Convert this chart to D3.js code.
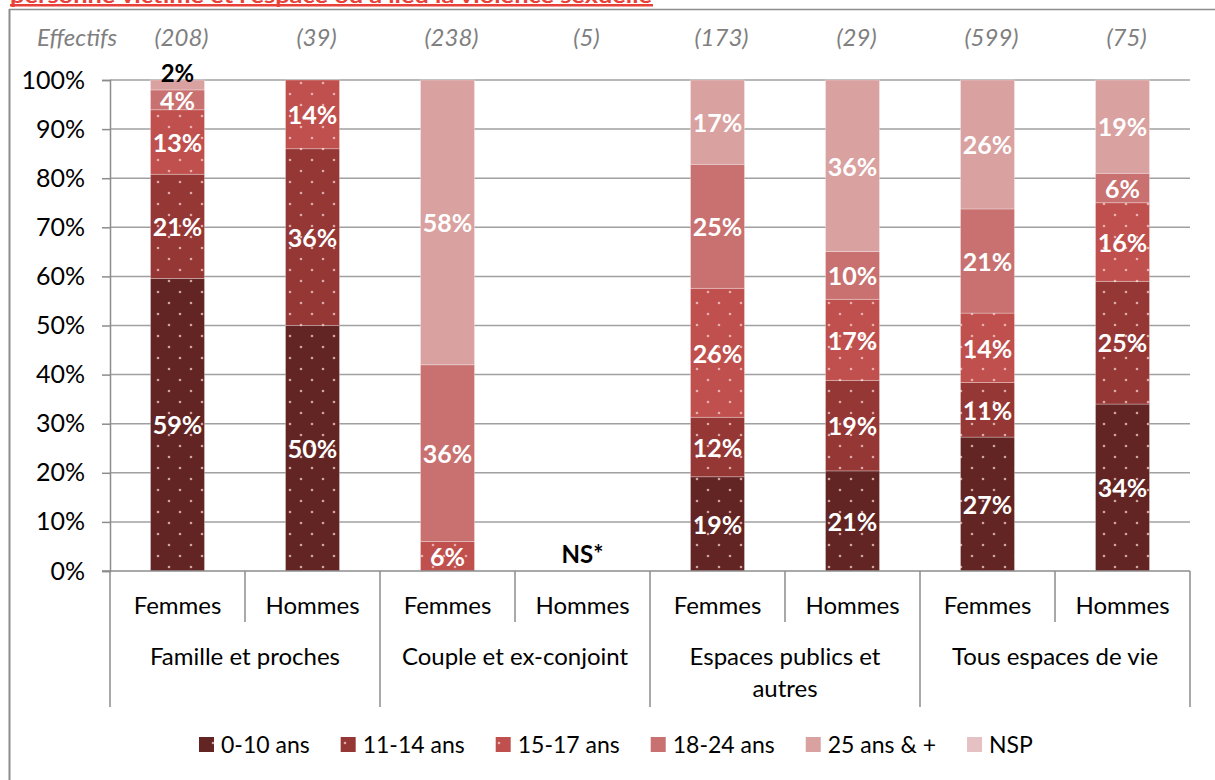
<!DOCTYPE html>
<html>
<head>
<meta charset="utf-8">
<script src="https://cdn.jsdelivr.net/npm/d3@7"></script>
<style>
  body { margin: 0; background: #fff; }
  text { font-family: Lato, "Open Sans", sans-serif; }
</style>
</head>
<body>
<div id="chart"></div>
<script>
// data
let groups = ["Famille et proches", "Couple et ex-conjoint", "Espaces publics et autres", "Tous espaces de vie"];
let sexes = ["Femmes", "Hommes"];
let effectifs = [208, 39, 238, 5, 173, 29, 599, 75];
let ageKeys = ["0-10 ans", "11-14 ans", "15-17 ans", "18-24 ans", "25 ans & +", "NSP"];
let age0_10 = [59, 50, 0, 0, 19, 21, 27, 34];
let age11_14 = [21, 36, 0, 0, 12, 19, 11, 25];
let age15_17 = [13, 14, 6, 0, 26, 17, 14, 16];
let age18_24 = [4, 0, 36, 0, 25, 10, 21, 6];
let age25plus = [2, 0, 58, 0, 17, 36, 26, 19];
let nsp = [0, 0, 0, 0, 0, 0, 0, 0];
let yTicks = [0, 0.1, 0.2, 0.3, 0.4, 0.5, 0.6, 0.7, 0.8, 0.9, 1];
let title = "personne victime et l'espace où a lieu la violence sexuelle";

let colors = ["#632523", "#953735", "#c0504d", "#c87170", "#d9a1a0", "#e6c1c3"];
let dotted = [true, true, true, false, false, false];

// build rows for d3.stack
let seriesVals = [age0_10, age11_14, age15_17, age18_24, age25plus, nsp];
let rows = [];
groups.forEach(function(g, gi) {
  sexes.forEach(function(s, si) {
    let i = gi * 2 + si;
    let row = { key: g + "|" + s, group: g, sexe: s, n: effectifs[i] };
    ageKeys.forEach(function(k, ki) { row[k] = seriesVals[ki][i]; });
    rows.push(row);
  });
});

let width = 1215;
let height = 780;
let plotLeft = 110, plotRight = 1190, plotTop = 80, plotBottom = 571;

let svg = d3.select("#chart").append("svg")
  .attr("width", width)
  .attr("height", height);

// dot patterns
let defs = svg.append("defs");
colors.forEach(function(c, i) {
  let p = defs.append("pattern")
    .attr("id", "pat" + i)
    .attr("patternUnits", "userSpaceOnUse")
    .attr("width", 22)
    .attr("height", 22);
  p.append("rect").attr("width", 22).attr("height", 22).attr("fill", c);
  if (dotted[i]) {
    p.append("circle").attr("cx", 4).attr("cy", 6).attr("r", 1.3).attr("fill", "#f5cfcf").attr("opacity", 0.75);
    p.append("circle").attr("cx", 15).attr("cy", 17).attr("r", 1.3).attr("fill", "#f5cfcf").attr("opacity", 0.75);
  }
});

// title (cut off at the top)
svg.append("text")
  .attr("x", 10)
  .attr("y", 3)
  .attr("fill", "#e8413a")
  .attr("font-weight", "bold")
  .attr("font-size", 20)
  .attr("textLength", 642)
  .attr("lengthAdjust", "spacingAndGlyphs")
  .text(title);
svg.append("rect").attr("x", 10).attr("y", 4).attr("width", 643).attr("height", 2.5).attr("fill", "#e8413a");

// outer border of the chart frame
svg.append("line").attr("x1", 9).attr("x2", width).attr("y1", 9.5).attr("y2", 9.5)
  .attr("stroke", "#8c8c8c").attr("stroke-width", 1.5);
svg.append("line").attr("x1", 9.5).attr("x2", 9.5).attr("y1", 9).attr("y2", height)
  .attr("stroke", "#8c8c8c").attr("stroke-width", 2);

let x = d3.scaleBand()
  .domain(rows.map(function(d) { return d.key; }))
  .range([plotLeft, plotRight])
  .paddingInner(0.6)
  .paddingOuter(0.3);

let y = d3.scaleLinear().domain([0, 1]).range([plotBottom, plotTop]);

// gridlines
svg.append("g")
  .selectAll("line")
  .data(yTicks.slice(1))
  .join("line")
  .attr("x1", plotLeft)
  .attr("x2", plotRight)
  .attr("y1", function(d) { return y(d); })
  .attr("y2", function(d) { return y(d); })
  .attr("stroke", "#a0a0a0")
  .attr("stroke-width", 1.5);

// y axis
let yAxis = d3.axisLeft(y)
  .tickValues(yTicks)
  .tickFormat(d3.format(".0%"))
  .tickSize(8)
  .tickPadding(17);
let yg = svg.append("g").attr("transform", "translate(" + plotLeft + ",0)").call(yAxis);
yg.select(".domain").attr("stroke", "#8c8c8c").attr("stroke-width", 1.5);
yg.selectAll(".tick line").attr("stroke", "#8c8c8c").attr("stroke-width", 1.5);
yg.selectAll("text").attr("font-size", 25).attr("fill", "#000").attr("font-family", "Lato, sans-serif");

// stacked bars (100% stacked)
let stack = d3.stack().keys(ageKeys).offset(d3.stackOffsetExpand);
let stacked = stack(rows);

let layers = svg.append("g").selectAll("g")
  .data(stacked)
  .join("g")
  .attr("fill", function(d, i) { return "url(#pat" + i + ")"; });

layers.selectAll("rect")
  .data(function(d) { return d; })
  .join("rect")
  .attr("x", function(d) { return x(d.data.key); })
  .attr("width", x.bandwidth())
  .attr("y", function(d) { return y(d[1]); })
  .attr("height", function(d) { return y(d[0]) - y(d[1]); })
  .attr("stroke", "#fff")
  .attr("stroke-opacity", 0.35)
  .attr("stroke-width", 0.8);

// segment labels
stacked.forEach(function(layer) {
  layer.forEach(function(d) {
    let v = d.data[layer.key];
    if (!v) return;
    let h = y(d[0]) - y(d[1]);
    let cx = x(d.data.key) + x.bandwidth() / 2;
    let small = h < 15;
    svg.append("text")
      .attr("x", cx)
      .attr("y", small ? y(d[1]) - 6 : (y(d[0]) + y(d[1])) / 2 + 1)
      .attr("dy", "0.35em")
      .attr("text-anchor", "middle")
      .attr("font-size", small ? 24 : 25)
      .attr("font-weight", "bold")
      .attr("fill", small ? "#000" : "#fff")
      .text(v + "%");
  });
});

// NS* for bars with too few cases
rows.forEach(function(r) {
  let tot = d3.sum(ageKeys, function(k) { return r[k]; });
  if (tot === 0) {
    svg.append("text")
      .attr("x", x(r.key) + x.bandwidth() / 2)
      .attr("y", 555)
      .attr("dy", "0.35em")
      .attr("text-anchor", "middle")
      .attr("font-size", 24)
      .attr("font-weight", "bold")
      .text("NS*");
  }
});

// effectifs row
svg.append("text")
  .attr("x", 37)
  .attr("y", 38)
  .attr("dy", "0.35em")
  .attr("font-size", 24)
  .attr("font-style", "italic")
  .attr("fill", "#7f7f7f")
  .text("Effectifs");
svg.append("g").selectAll("text")
  .data(rows)
  .join("text")
  .attr("x", function(d) { return x(d.key) + x.bandwidth() / 2 + 4; })
  .attr("y", 38)
  .attr("dy", "0.35em")
  .attr("text-anchor", "middle")
  .attr("font-size", 24)
  .attr("font-style", "italic")
  .attr("fill", "#7f7f7f")
  .text(function(d) { return "(" + d.n + ")"; });

// category axis
let step = x.step();
svg.append("line")
  .attr("x1", plotLeft - 8).attr("x2", plotRight)
  .attr("y1", plotBottom).attr("y2", plotBottom)
  .attr("stroke", "#8c8c8c").attr("stroke-width", 1.5);
svg.append("g").selectAll("line")
  .data(d3.range(rows.length + 1))
  .join("line")
  .attr("x1", function(i) { return plotLeft + i * step; })
  .attr("x2", function(i) { return plotLeft + i * step; })
  .attr("y1", plotBottom)
  .attr("y2", function(i) { return i % 2 ? 622 : 707; })
  .attr("stroke", "#8c8c8c")
  .attr("stroke-width", 1.5);

svg.append("g").selectAll("text")
  .data(rows)
  .join("text")
  .attr("x", function(d) { return x(d.key) + x.bandwidth() / 2; })
  .attr("y", 606)
  .attr("dy", "0.35em")
  .attr("text-anchor", "middle")
  .attr("font-size", 24)
  .text(function(d) { return d.sexe; });

groups.forEach(function(g, gi) {
  let cx = plotLeft + (gi * 2 + 1) * step;
  let words = g.split(" ");
  let lines = [];
  let cur = "";
  let probe = svg.append("text").attr("font-size", 24);
  words.forEach(function(w) {
    let test = cur ? cur + " " + w : w;
    probe.text(test);
    if (probe.node().getComputedTextLength() > 250 && cur) {
      lines.push(cur);
      cur = w;
    } else {
      cur = test;
    }
  });
  lines.push(cur);
  probe.remove();
  lines.forEach(function(l, li) {
    svg.append("text")
      .attr("x", cx)
      .attr("y", 657 + li * 32)
      .attr("dy", "0.35em")
      .attr("text-anchor", "middle")
      .attr("font-size", 24)
      .text(l);
  });
});

// legend
let legend = svg.append("g");
let lx = 199;
ageKeys.forEach(function(k, i) {
  legend.append("rect")
    .attr("x", lx).attr("y", 737)
    .attr("width", 15).attr("height", 15)
    .attr("fill", "url(#pat" + i + ")");
  let txt = legend.append("text")
    .attr("x", lx + 22)
    .attr("y", 745)
    .attr("dy", "0.35em")
    .attr("font-size", 23)
    .text(k);
  lx += 22 + txt.node().getComputedTextLength() + 31;
});
</script>
</body>
</html>
